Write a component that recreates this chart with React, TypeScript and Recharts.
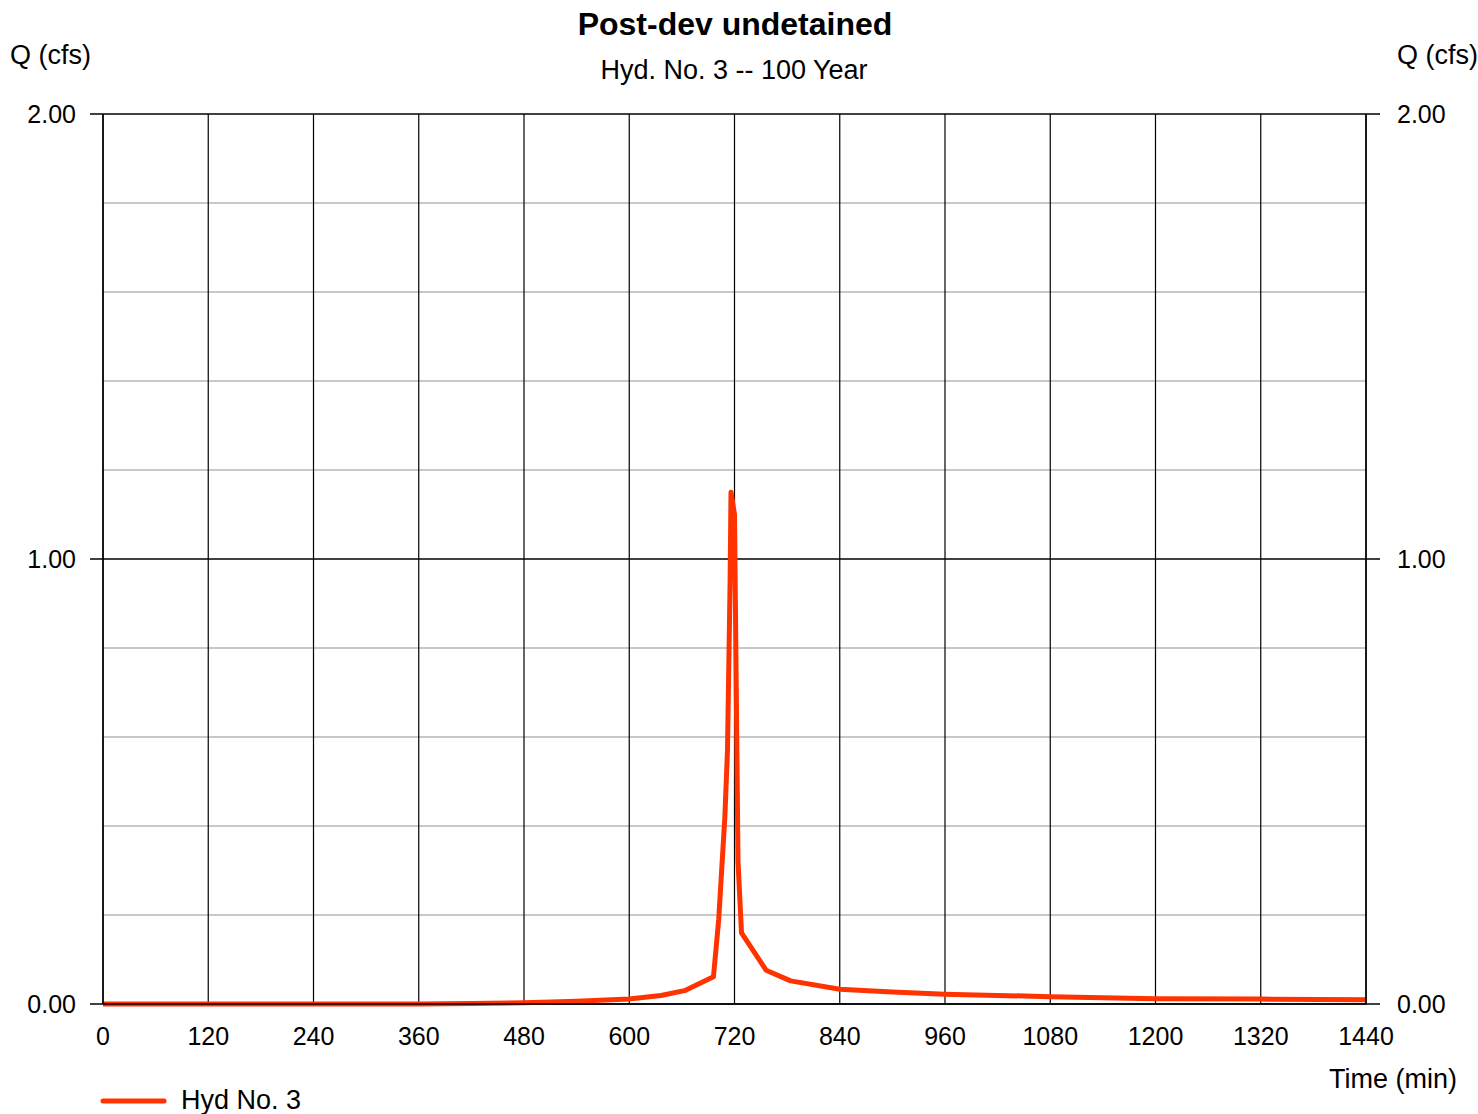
import { LineChart, Line, XAxis, YAxis, ReferenceLine } from "recharts"

const TIME = [0, 120, 240, 360, 420, 480, 540, 600, 636, 663, 696, 702, 709, 712, 715, 716, 720, 724, 728, 756, 784, 840, 900, 960, 1080, 1200, 1320, 1440]
const FLOW = [0, 0, 0, 0, 0.001, 0.003, 0.006, 0.011, 0.019, 0.03, 0.061, 0.19, 0.42, 0.57, 0.95, 1.15, 1.1, 0.32, 0.16, 0.076, 0.052, 0.033, 0.027, 0.022, 0.0165, 0.012, 0.011, 0.0095]

const X_TICKS = [0, 120, 240, 360, 480, 600, 720, 840, 960, 1080, 1200, 1320, 1440]
const Y_MAJOR = [0, 1, 2]
const Y_MINOR = [0.2, 0.4, 0.6, 0.8, 1.2, 1.4, 1.6, 1.8]

const data = TIME.map((t, i) => ({ t, q: FLOW[i] }))

const FONT = "'Liberation Sans', Arial, sans-serif"
const RED = "#ff3300"

const txt = (extra: React.CSSProperties): React.CSSProperties => ({
  position: "absolute",
  fontFamily: FONT,
  fontSize: 27,
  color: "#000",
  whiteSpace: "nowrap",
  lineHeight: 1,
  ...extra,
})

export default function App() {
  const tick = { fontFamily: FONT, fontSize: 25, fill: "#000" }
  return (
    <div style={{ position: "absolute", left: 0, top: 0, width: 1478, height: 1114, background: "#fff", overflow: "hidden" }}>
      <LineChart width={1478} height={1114} data={data} margin={{ top: 114, right: 32, bottom: 80, left: 23 }}>
        <XAxis
          dataKey="t"
          type="number"
          domain={[0, 1440]}
          ticks={X_TICKS}
          tickSize={0}
          tickMargin={23}
          height={30}
          tick={tick}
          axisLine={{ stroke: "#000", strokeWidth: 1.5 }}
          interval={0}
        />
        <YAxis
          yAxisId="left"
          type="number"
          domain={[0, 2]}
          ticks={Y_MAJOR}
          tickFormatter={(v: number) => v.toFixed(2)}
          width={80}
          tickSize={13}
          tickMargin={14}
          tick={tick}
          tickLine={{ stroke: "#000", strokeWidth: 1.5 }}
          axisLine={{ stroke: "#000", strokeWidth: 1.5 }}
          interval={0}
        />
        <YAxis
          yAxisId="right"
          orientation="right"
          type="number"
          domain={[0, 2]}
          ticks={Y_MAJOR}
          tickFormatter={(v: number) => v.toFixed(2)}
          width={80}
          tickSize={14}
          tickMargin={17}
          tick={tick}
          tickLine={{ stroke: "#000", strokeWidth: 1.5 }}
          axisLine={{ stroke: "#000", strokeWidth: 1.5 }}
          interval={0}
        />
        {Y_MINOR.map((v) => (
          <ReferenceLine key={"m" + v} yAxisId="left" y={v} stroke="#c8c8c8" strokeWidth={2} />
        ))}
        {X_TICKS.map((v) => (
          <ReferenceLine key={"x" + v} yAxisId="left" x={v} stroke="#000" strokeWidth={1.2} />
        ))}
        {Y_MAJOR.map((v) => (
          <ReferenceLine key={"M" + v} yAxisId="left" y={v} stroke="#000" strokeWidth={1.5} />
        ))}
        {/* invisible series so the right axis gets drawn */}
        <Line yAxisId="right" dataKey="q" stroke="none" dot={false} activeDot={false} isAnimationActive={false} />
        <Line
          yAxisId="left"
          type="linear"
          dataKey="q"
          name="Hyd No. 3"
          stroke={RED}
          strokeWidth={5}
          strokeLinejoin="round"
          dot={false}
          isAnimationActive={false}
        />
      </LineChart>
      <div style={txt({ left: 0, width: 1470, top: 8, textAlign: "center", fontWeight: "bold", fontSize: 32 })}>Post-dev undetained</div>
      <div style={txt({ left: 0, width: 1468, top: 57, textAlign: "center" })}>Hyd. No. 3 -- 100 Year</div>
      <div style={txt({ left: 10, top: 42 })}>Q (cfs)</div>
      <div style={txt({ left: 1397, top: 42 })}>Q (cfs)</div>
      <div style={txt({ left: 1329, top: 1066 })}>Time (min)</div>
      <svg style={{ position: "absolute", left: 100, top: 1084 }} width={240} height={30}>
        <line x1={3} y1={17} x2={64} y2={17} stroke={RED} strokeWidth={5} strokeLinecap="round" />
        <text x={81} y={25} fontFamily={FONT} fontSize={27} fill="#000">Hyd No. 3</text>
      </svg>
    </div>
  )
}
